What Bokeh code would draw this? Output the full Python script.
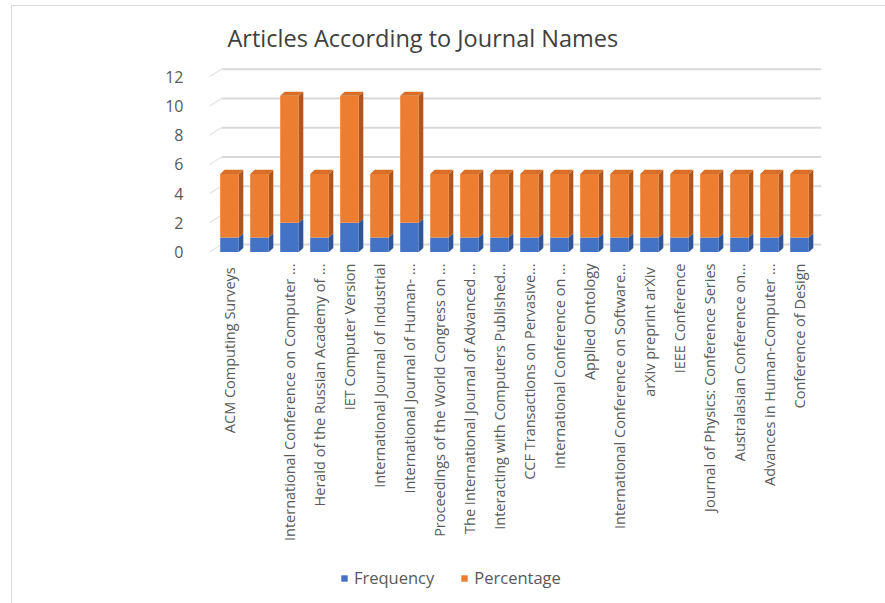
import numpy as np
from bokeh.plotting import figure
from bokeh.models import FixedTicker, Legend, LegendItem
from bokeh.core.properties import value
from bokeh.embed import file_html
from bokeh.resources import INLINE

# Journals (long names are shortened with an ellipsis, as on the category axis)
journals = [
    "ACM Computing  Surveys",
    "",
    "International Conference on Computer ...",
    "Herald of the Russian Academy of ...",
    "IET Computer Version",
    "International Journal of Industrial",
    "International Journal of Human- ...",
    "Proceedings of the World Congress on ...",
    "The International Journal of Advanced ...",
    "Interacting with Computers Published...",
    "CCF Transactions on Pervasive...",
    "International Conference on ...",
    "Applied Ontology",
    "International Conference on Software...",
    "arXiv preprint  arXiv",
    "IEEE Conference",
    "Journal of Physics: Conference Series",
    "Australasian Conference on...",
    "Advances in Human-Computer ...",
    "Conference of Design",
]
frequency = [1, 1, 2, 1, 2, 1, 2, 1, 1, 1, 1, 1, 1, 1, 1, 1, 1, 1, 1, 1]
percentage = [4.35, 4.35, 8.70, 4.35, 8.70, 4.35, 8.70, 4.35, 4.35, 4.35,
              4.35, 4.35, 4.35, 4.35, 4.35, 4.35, 4.35, 4.35, 4.35, 4.35]
y_ticks = [0, 2, 4, 6, 8, 10, 12]

FONT = "Open Sans"
TEXT = "#595959"

n = len(journals)
xs = np.arange(n, dtype=float)
freq = np.array(frequency, dtype=float)
pct = np.array(percentage, dtype=float)
top = freq + pct

# 3-D look: front face width, bar depth, and back-wall offset (data units)
W = 0.62
DX, DY = 0.15, 0.28
WX, WY = 0.40, 0.51
LABEL_GAP = 0.79   # space between the floor and the category names

# the plot frame runs down to the bottom edge so the category names and
# the legend can sit underneath the bars
p = figure(
    width=874, height=598,
    x_range=(-0.767, 19.733), y_range=(-24.144, 12.705),
    output_backend="svg", toolbar_location=None,
    min_border_left=194, min_border_right=65,
    min_border_top=60, min_border_bottom=0,
    margin=(5, 0, 0, 11),
    title="Articles According to Journal Names",
)
p.styles = {"border-left": "1px solid #d9d9d9", "border-top": "1px solid #d9d9d9"}
p.outline_line_color = None
p.xgrid.visible = False
p.ygrid.visible = False
p.xaxis.visible = False
p.background_fill_color = "white"
p.border_fill_color = "white"

p.title.align = "left"
p.title.offset = 21
p.title.standoff = 26
p.title.text_font = FONT
p.title.text_font_size = "23.5px"
p.title.text_font_style = "normal"
p.title.text_color = "#404040"

# back-wall gridlines, with the short diagonal that joins them to the front plane
gx0 = -0.667
gy = np.array(y_ticks, dtype=float)
p.segment(x0=[gx0] * len(gy), y0=gy, x1=[gx0 + WX] * len(gy), y1=gy + WY,
          line_color="#e3e3e3", line_width=1.2)
p.segment(x0=[gx0 + WX] * len(gy), y0=gy + WY, x1=[19.73] * len(gy), y1=gy + WY,
          line_color="#d9d9d9", line_width=2)

def side_faces(bottom, upper):
    xr = xs + W / 2
    fx = [[a, a + DX, a + DX, a] for a in xr]
    fy = [[b, b + DY, t + DY, t] for b, t in zip(bottom, upper)]
    return fx, fy

# Frequency segment
fx, fy = side_faces(np.zeros(n), freq)
p.patches(fx, fy, fill_color="#2F5597", line_color=None)
r_freq = p.vbar(x=xs, bottom=0, top=freq, width=W, fill_color="#4472C4", line_color=None)

# Percentage segment, stacked on top
fx, fy = side_faces(freq, top)
p.patches(fx, fy, fill_color="#B0561C", line_color=None)
r_pct = p.vbar(x=xs, bottom=freq, top=top, width=W, fill_color="#ED7D31", line_color=None)

# top faces
tx = [[a - W / 2, a + W / 2, a + W / 2 + DX, a - W / 2 + DX] for a in xs]
ty = [[t, t, t + DY, t + DY] for t in top]
p.patches(tx, ty, fill_color="#D96F27", line_color=None)

# category names, written upward beneath each bar
p.text(x=xs, y=[-LABEL_GAP] * n, text=journals, angle=np.pi / 2,
       text_align="right", text_baseline="middle",
       text_font=value(FONT), text_font_size="14.5px", text_color=TEXT)

# value axis
p.yaxis.ticker = FixedTicker(ticks=y_ticks)
p.yaxis.axis_line_color = None
p.yaxis.major_tick_line_color = None
p.yaxis.minor_tick_line_color = None
p.yaxis.major_label_standoff = 17
p.yaxis.major_label_text_font = FONT
p.yaxis.major_label_text_font_size = "16px"
p.yaxis.major_label_text_color = TEXT

legend = Legend(
    items=[LegendItem(label="Frequency", renderers=[r_freq]),
           LegendItem(label="Percentage", renderers=[r_pct])],
    orientation="horizontal", location=(134, 15),
    glyph_width=8, glyph_height=8, label_standoff=6, spacing=26,
    padding=0, margin=0, border_line_color=None, background_fill_alpha=0,
    label_text_font=FONT, label_text_font_size="16.5px", label_text_color=TEXT,
)
p.add_layout(legend, "center")

open("out.html", "w").write(file_html(p, INLINE))
